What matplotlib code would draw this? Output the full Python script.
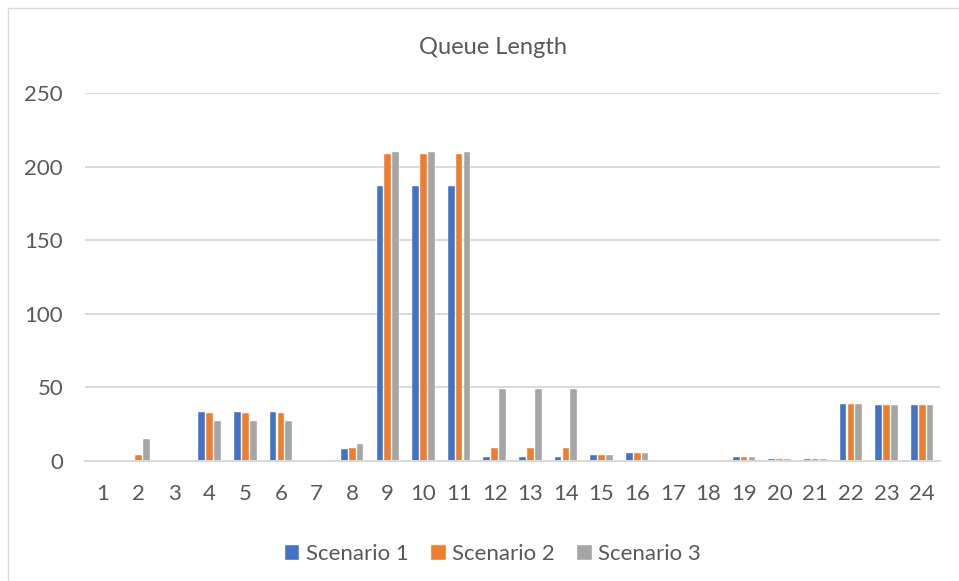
import matplotlib
matplotlib.use("Agg")
import matplotlib.pyplot as plt
import numpy as np
from matplotlib.patches import Rectangle

plt.rcParams['font.family'] = ['Lato', 'DejaVu Sans']

hours = [str(h) for h in range(1, 25)]
scenario_1 = [0, 0, 0, 33, 33, 33, 0, 7.8, 187, 187, 187, 2.7, 2.7, 2.7,
              3.9, 5.2, 0, 0, 2.5, 1.2, 1.2, 38.6, 38.1, 38.1]
scenario_2 = [0, 3.7, 0, 32.7, 32.7, 32.5, 0, 8.6, 209, 209, 209, 8.6, 8.6, 8.6,
              3.9, 5.2, 0, 0, 2.5, 1.2, 1.2, 38.6, 38.1, 38.1]
scenario_3 = [0, 14.6, 0, 26.8, 26.8, 26.8, 0, 11.4, 210, 210, 210, 48.8, 48.8, 48.8,
              3.9, 5.2, 0, 0, 2.5, 1.2, 1.2, 38.6, 38.1, 38.1]
series_names = ["Scenario 1", "Scenario 2", "Scenario 3"]
series_colors = ["#4472C4", "#ED7D31", "#A5A5A5"]
y_ticks = [0, 50, 100, 150, 200, 250]

W, H = 959, 581
fig = plt.figure(figsize=(W / 100, H / 100), dpi=100)
fig.patch.set_facecolor("white")

# chart-area outline
fig.patches.append(Rectangle((8 / W, -0.1), 1.2, 1 - 8 / H + 0.1,
                             transform=fig.transFigure, fill=False,
                             edgecolor="#D9D9D9", linewidth=1.0))

left, right, top, bottom = 85, 940, 93.3, 460.7
ax = fig.add_axes([left / W, 1 - bottom / H, (right - left) / W, (bottom - top) / H])

x = np.arange(len(hours))
width = 0.19
step = 0.22
for i, (vals, name, col) in enumerate(zip([scenario_1, scenario_2, scenario_3],
                                           series_names, series_colors)):
    ax.bar(x + (i - 1) * step, vals, width=width, color=col, label=name,
           edgecolor="white", linewidth=0.3, zorder=3)

ax.set_xlim(-0.5, len(hours) - 0.5)
ax.set_ylim(0, 250)
ax.set_yticks(y_ticks)
ax.set_xticks(x)
ax.set_xticklabels(hours)
ax.grid(axis="y", color="#D9D9D9", linewidth=1.4, zorder=0)
ax.set_axisbelow(True)
for s in ["top", "right", "left"]:
    ax.spines[s].set_visible(False)
ax.spines["bottom"].set_color("#D9D9D9")
ax.spines["bottom"].set_linewidth(1.4)
ax.spines["bottom"].set_zorder(4)
ax.tick_params(axis="both", length=0, labelsize=16, colors="#595959")
ax.tick_params(axis="y", pad=15.8)
ax.tick_params(axis="x", pad=17)

fig.text(493 / W, 1 - 47 / H, "Queue Length", ha="center", va="center",
         fontsize=17, color="#595959")

handles, labels = ax.get_legend_handles_labels()
fig.legend(handles, labels, loc="center", bbox_to_anchor=(493 / W, 1 - 554 / H),
           ncol=3, frameon=False, fontsize=16, labelcolor="#595959",
           handlelength=0.65, handleheight=0.65, handletextpad=0.3,
           columnspacing=1.0)

fig.savefig("out.png", dpi=100, facecolor="white")
